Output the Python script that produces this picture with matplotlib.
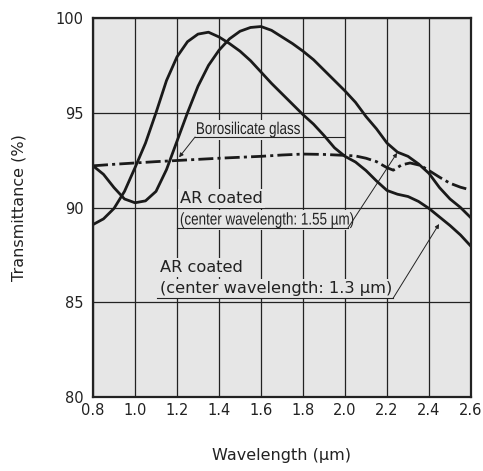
import matplotlib
matplotlib.use("Agg")
import matplotlib.pyplot as plt
from matplotlib.textpath import TextPath
from matplotlib.patches import PathPatch, Rectangle
from matplotlib.font_manager import FontProperties
from matplotlib.transforms import Affine2D

# wavelength grid (um) used for the two coated curves
wavelength = [0.80, 0.85, 0.90, 0.95, 1.00, 1.05, 1.10, 1.15, 1.20, 1.25,
              1.30, 1.35, 1.40, 1.45, 1.50, 1.55, 1.60, 1.65, 1.70, 1.75,
              1.80, 1.85, 1.90, 1.95, 2.00, 2.05, 2.10, 2.15, 2.20, 2.25,
              2.30, 2.35, 2.40, 2.45, 2.50, 2.55, 2.60]

# AR coated, center wavelength 1.3 um
ar_13 = [89.10, 89.40, 89.95, 90.85, 92.10, 93.40, 95.00, 96.70, 97.95, 98.75,
         99.15, 99.25, 99.00, 98.65, 98.25, 97.75, 97.15, 96.55, 96.00, 95.45,
         94.90, 94.40, 93.80, 93.15, 92.70, 92.40, 91.95, 91.40, 90.90, 90.70,
         90.58, 90.32, 89.95, 89.50, 89.05, 88.55, 87.95]

# AR coated, center wavelength 1.55 um
ar_155 = [92.20, 91.75, 91.05, 90.45, 90.25, 90.35, 90.85, 92.00, 93.50, 95.00,
          96.40, 97.50, 98.30, 98.90, 99.30, 99.50, 99.55, 99.35, 99.00, 98.65,
          98.25, 97.80, 97.25, 96.70, 96.15, 95.55, 94.80, 94.15, 93.40, 92.92,
          92.70, 92.30, 91.80, 91.05, 90.45, 90.00, 89.45]

# uncoated borosilicate glass (dash-dot)
glass_x = [0.80, 0.90, 1.00, 1.10, 1.20, 1.30, 1.40, 1.50, 1.60, 1.70, 1.80,
           1.90, 2.00, 2.05, 2.10, 2.15, 2.20, 2.23, 2.27, 2.31, 2.36, 2.40,
           2.45, 2.50, 2.55, 2.60]
glass_y = [92.20, 92.28, 92.35, 92.42, 92.48, 92.54, 92.60, 92.65, 92.70, 92.77, 92.82,
           92.80, 92.75, 92.72, 92.60, 92.42, 92.10, 91.97, 92.25, 92.35, 92.22, 91.95,
           91.60, 91.28, 91.07, 90.92]

x_ticks = [0.8, 1.0, 1.2, 1.4, 1.6, 1.8, 2.0, 2.2, 2.4, 2.6]
y_ticks = [80, 85, 90, 95, 100]

bg = "#e6e6e6"
ink = "#222222"

plt.rcParams["font.family"] = ["DejaVu Sans"]
fig = plt.figure(figsize=(4.83, 4.71), dpi=100)
ax = fig.add_axes([93 / 483, 74 / 471, 378 / 483, 379 / 471])
ax.set_facecolor(bg)

ax.plot(wavelength, ar_13, color="#1a1a1a", lw=2.0, zorder=5)
ax.plot(wavelength, ar_155, color="#1a1a1a", lw=2.0, zorder=5)
ax.plot(glass_x, glass_y, color="#1a1a1a", lw=2.0, zorder=5,
        linestyle=(0, (5.4, 1.5, 1.1, 1.5)))

ax.set_xlim(0.8, 2.6)
ax.set_ylim(80, 100)
ax.set_xticks(x_ticks)
ax.set_xticklabels(["%.1f" % v for v in x_ticks])
ax.set_yticks(y_ticks)
ax.tick_params(length=0, labelsize=10.5, colors=ink)
ax.tick_params(axis="x", pad=4)
ax.tick_params(axis="y", pad=7)
ax.grid(True, color=ink, lw=0.9, zorder=1)
ax.set_axisbelow(True)
for s in ax.spines.values():
    s.set_linewidth(1.6)
    s.set_color(ink)
    s.set_zorder(6)

ax.set_xlabel("Wavelength (µm)", fontsize=11.5, labelpad=22, color=ink)
ax.set_ylabel("Transmittance (%)", fontsize=11.5, labelpad=21, color=ink)

box = dict(facecolor=bg, edgecolor="none", pad=1.5)
ln = dict(color=ink, lw=0.8, zorder=4)
arr = dict(arrowstyle="-|>", color=ink, lw=0.7, mutation_scale=6, shrinkA=0, shrinkB=0)
narrow_prop = FontProperties(family="Liberation Sans")


def narrow_text(x, y, s, em=17.0, squeeze=0.79):
    # condensed label: text path squeezed horizontally, baseline at (x, y)
    X, Y = ax.transData.transform((x, y))
    path = TextPath((0, 0), s, size=em, prop=narrow_prop)
    tr = Affine2D().scale(squeeze, 1.0).translate(X, Y)
    ext = path.get_extents().transformed(Affine2D().scale(squeeze, 1.0))
    mask = Rectangle((X + ext.x0 - 2, Y + ext.y0 - 2), ext.width + 4, ext.height + 4,
                     transform=Affine2D(), facecolor=bg, edgecolor="none", zorder=3)
    ax.add_patch(mask)
    ax.add_patch(PathPatch(path, transform=tr, facecolor=ink, edgecolor="none", zorder=3.5))


# Borosilicate glass label
narrow_text(1.29, 93.88, "Borosilicate glass")
ax.plot([1.286, 2.0], [93.72, 93.72], **ln)
ax.annotate("", xy=(1.21, 92.65), xytext=(1.286, 93.72), arrowprops=arr, zorder=4)

# AR coated 1.55 label
ax.text(1.214, 90.25, "AR coated", fontsize=11.7, ha="left", va="baseline",
        bbox=box, zorder=3, color=ink)
narrow_text(1.214, 89.10, "(center wavelength: 1.55 µm)")
ax.plot([1.2, 2.014], [88.92, 88.92], **ln)
ax.annotate("", xy=(2.248, 92.88), xytext=(2.014, 88.92), arrowprops=arr, zorder=4)

# AR coated 1.3 label
ax.text(1.119, 86.61, "AR coated", fontsize=11.7, ha="left", va="baseline",
        bbox=box, zorder=3, color=ink)
ax.text(1.119, 85.47, "(center wavelength: 1.3 µm)", fontsize=11.7,
        ha="left", va="baseline", bbox=box, zorder=3, color=ink)
ax.plot([1.105, 2.229], [85.21, 85.21], **ln)
ax.annotate("", xy=(2.448, 89.13), xytext=(2.229, 85.21), arrowprops=arr, zorder=4)

fig.savefig("out.png", dpi=100, facecolor="white")
